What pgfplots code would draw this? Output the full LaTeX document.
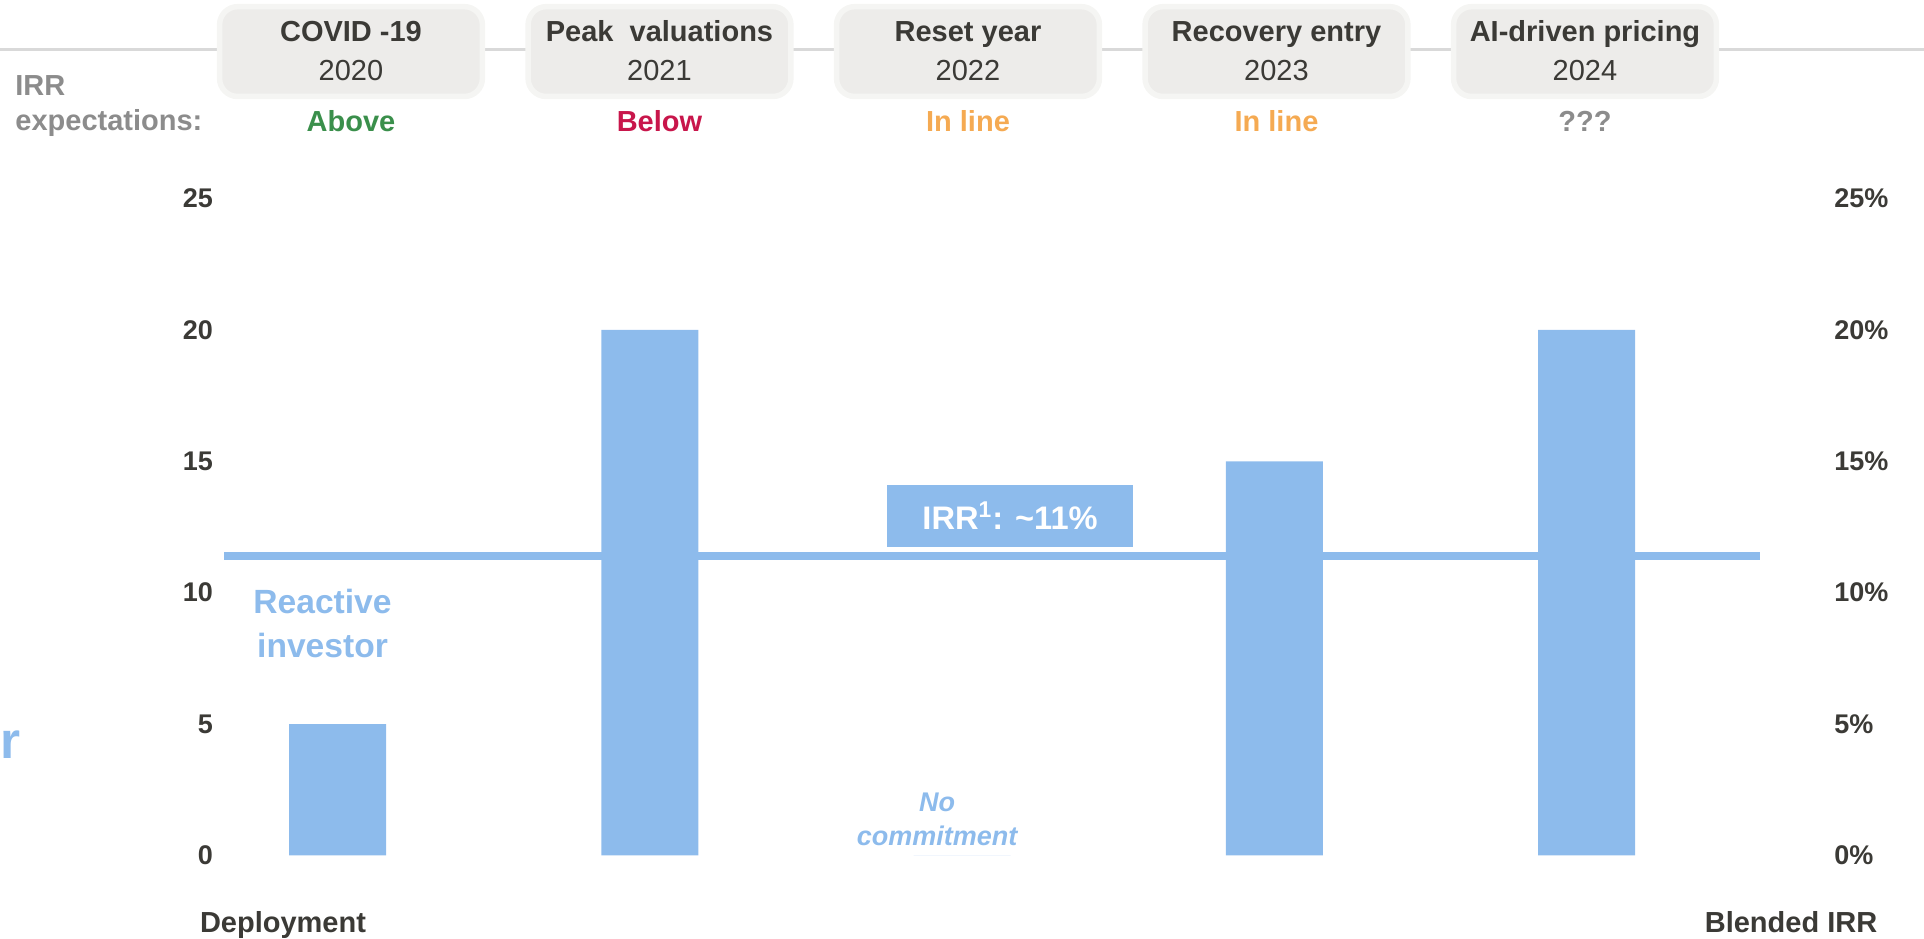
\documentclass[border=0pt]{standalone}
\usepackage{fontspec}
\setmainfont{Liberation Sans}
\usepackage{pgfplots}
\pgfplotsset{compat=1.18}

\definecolor{barblue}{HTML}{8DBBEC}
\definecolor{darktext}{HTML}{3B3A36}
\definecolor{graytext}{HTML}{8C8C8C}
\definecolor{abovegreen}{HTML}{3A8F4B}
\definecolor{belowred}{HTML}{C8164B}
\definecolor{inlineorange}{HTML}{F5AA52}
\definecolor{boxfill}{HTML}{EDECEA}
\definecolor{boxedge}{HTML}{F5F5F3}
\definecolor{linegray}{HTML}{D9D9D9}

\newcommand{\fs}[1]{\fontsize{#1}{#1}\selectfont}

% header box: x position, title, year, colour, expectation
\newcommand{\hdr}[5]{%
  \node[fill=boxfill, draw=boxedge, line width=2.75pt, rounded corners=9pt,
        minimum width=131.4pt, minimum height=44.9pt, inner sep=0pt]
        at (axis cs:#1,30.597) {};
  \node[anchor=base, font=\bfseries\fs{14.5}, text=darktext, inner sep=0pt]
        at (axis cs:#1,30.97) {#2};
  \node[anchor=base, font=\fs{14.5}, text=darktext, inner sep=0pt]
        at (axis cs:#1,29.48) {#3};
  \node[anchor=base, font=\bfseries\fs{14.5}, text=#4, inner sep=0pt]
        at (axis cs:#1,27.55) {#5};
}

\begin{document}
\begin{tikzpicture}
\begin{axis}[
    scale only axis,
    width=799.35pt, height=328.4pt,
    xmin=-0.3625, xmax=4.7574,
    ymin=0, ymax=25,
    axis line style={draw=none},
    xtick=\empty,
    ytick={0,5,10,15,20,25},
    major tick length=0pt,
    /pgf/number format/assume math mode=true,
    yticklabel style={font=\bfseries\fs{13.5}, text=darktext,
                      anchor=east, inner sep=0pt, xshift=-5.5pt},
    clip=false,
]
    % blended IRR line, under the bars
    \addplot[barblue, line width=3.75pt] coordinates {(-0.3625,11.4) (4.556,11.4)};

    % deployment bars
    \addplot[ybar, bar width=48.5pt, fill=barblue, draw=none] coordinates {
        (0,5) (1,20) (2,0) (3,15) (4,20)
    };

    % timeline line behind the header boxes
    \draw[linegray, line width=1.5pt] (axis cs:-1.0809,30.68) -- (axis cs:5.0809,30.68);

    \hdr{0.0432}{COVID -19}{2020}{abovegreen}{Above}
    \hdr{1.0312}{Peak~ valuations}{2021}{belowred}{Below}
    \hdr{2.0192}{Reset year}{2022}{inlineorange}{In line}
    \hdr{3.0072}{Recovery entry}{2023}{inlineorange}{In line}
    \hdr{3.9952}{AI-driven pricing}{2024}{graytext}{???}

    \node[anchor=base west, font=\bfseries\fs{14.5}, text=graytext, inner sep=0pt]
        at (axis cs:-1.0328,28.94) {IRR};
    \node[anchor=base west, font=\bfseries\fs{14.5}, text=graytext, inner sep=0pt]
        at (axis cs:-1.0328,27.61) {expectations:};

    % IRR label box
    \fill[barblue] (axis cs:1.759,11.75) rectangle (axis cs:2.547,14.10);
    \node[anchor=base, font=\bfseries\fs{16.3}, text=white, inner sep=0pt]
        at (axis cs:2.154,12.39) {IRR\textsuperscript{1}: \textasciitilde 11\%};

    \node[anchor=base, font=\bfseries\fs{16.8}, text=barblue, inner sep=0pt]
        at (axis cs:-0.048,9.22) {Reactive};
    \node[anchor=base, font=\bfseries\fs{16.8}, text=barblue, inner sep=0pt]
        at (axis cs:-0.048,7.54) {investor};

    \node[anchor=base, font=\bfseries\itshape\fs{13.5}, text=barblue, inner sep=0pt]
        at (axis cs:1.920,1.667) {No};
    \node[anchor=base, font=\bfseries\itshape\fs{13.5}, text=barblue, inner sep=0pt]
        at (axis cs:1.920,0.36) {commitment};

    \node[anchor=base east, font=\bfseries\fs{25.7}, text=barblue, inner sep=0pt]
        at (axis cs:-1.0136,3.70) {r};

    \node[anchor=base, font=\bfseries\fs{14.5}, text=darktext, inner sep=0pt]
        at (axis cs:-0.1745,-2.94) {Deployment};
    \node[anchor=base, font=\bfseries\fs{14.5}, text=darktext, inner sep=0pt]
        at (axis cs:4.655,-2.94) {Blended IRR};

    \coordinate (bbsw) at (axis cs:-1.0809,-3.178);
    \coordinate (bbne) at (axis cs:5.0809,32.56);
\end{axis}

% right-hand percentage scale
\begin{axis}[
    scale only axis,
    width=799.35pt, height=328.4pt,
    xmin=-0.3625, xmax=4.7574,
    ymin=0, ymax=25,
    axis y line*=right,
    axis x line=none,
    axis line style={draw=none},
    ytick={0,5,10,15,20,25},
    yticklabels={0\%,5\%,10\%,15\%,20\%,25\%},
    major tick length=0pt,
    yticklabel style={font=\bfseries\fs{13.5}, text=darktext,
                      anchor=west, inner sep=0pt, xshift=5.5pt},
]
    \addplot[draw=none] coordinates {(0,0)};
\end{axis}

\pgfresetboundingbox
\path (bbsw) rectangle (bbne);
\end{tikzpicture}
\end{document}
